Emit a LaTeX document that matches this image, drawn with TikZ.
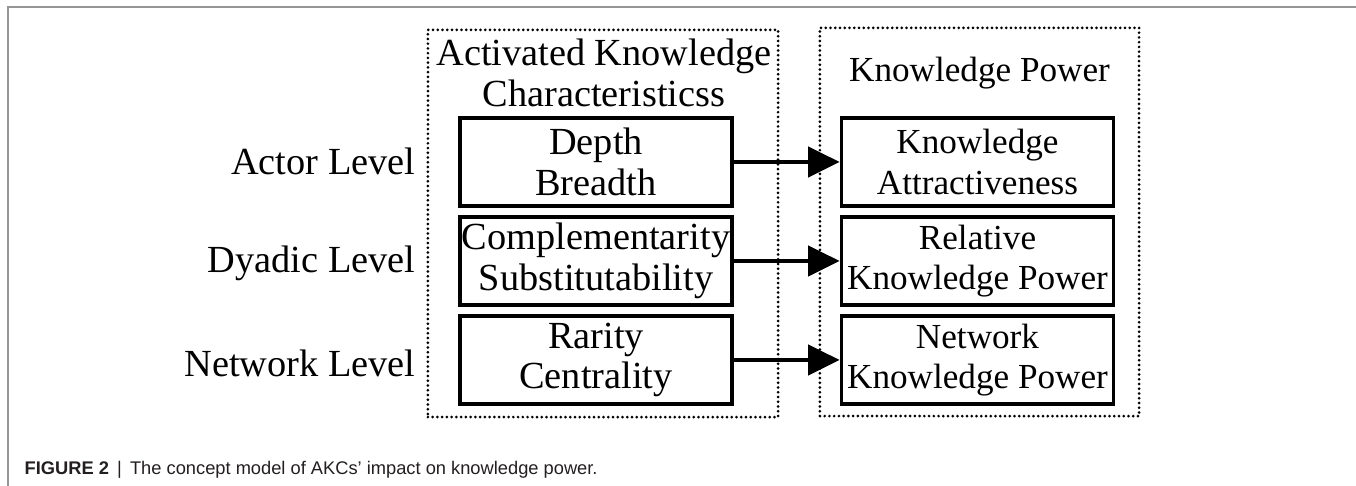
\documentclass[tikz,border=0pt]{standalone}
\usepackage{fontspec}
\setmainfont{Liberation Serif}
\newfontfamily\capfont{Liberation Sans}
\usetikzlibrary{arrows.meta,positioning}
\definecolor{framegray}{RGB}{150,150,150}
\definecolor{captext}{RGB}{35,31,32}

\begin{document}
\begin{tikzpicture}[
    x=0.01cm, y=-0.01cm,
    txt/.style={font=\fontsize{10}{11.4}\selectfont},
    bigtxt/.style={font=\fontsize{10.9}{11.6}\selectfont},
    level/.style={bigtxt, anchor=base east, inner sep=0pt},
    group/.style={draw, rectangle, dash pattern=on 0pt off 1.35pt, line cap=round, line width=0.85pt, inner sep=0pt},
    item/.style={draw, rectangle, line width=1pt, minimum width=2.72cm, minimum height=0.88cm, align=center, inner sep=0pt, txt},
    arrow/.style={-{Triangle[length=9pt,width=8.6pt]}, line width=1.2pt}
]
\useasboundingbox (0,0) rectangle (1356,486);

% Frame
\draw[framegray, line width=0.3pt] (1356,7) -- (8,7) -- (8,486);

% Groups
\node[group, minimum width=3.5cm, minimum height=3.87cm] (akcgroup) at (603,223.5) {};
\node[group, minimum width=3.19cm, minimum height=3.88cm] (kpgroup) at (979.5,222) {};
\node[bigtxt, align=center] (akctitle) at (604,73) {Activated Knowledge\\Characteristicss};
\node[txt] (kptitle) at (979.5,73) {Knowledge Power};

% Levels
\node[level] (actor) at (416,175) {Actor Level};
\node[level] (dyadic) at (416,273) {Dyadic Level};
\node[level] (network) at (416,377) {Network Level};

% Characteristics
\node[item, bigtxt] (depth) at (596,162) {Depth\\Breadth};
\node[item, bigtxt] (compl) at (596,261) {Complementarity\\Substitutability};
\node[item, bigtxt] (rarity) at (596,360) {Rarity\\Centrality};

% Knowledge power
\node[item] (attract) at (977.5,162) {Knowledge\\Attractiveness};
\node[item] (relative) at (977.5,261) {Relative\\Knowledge Power};
\node[item] (netpower) at (977.5,360) {Network\\Knowledge Power};

% Arrows
\draw[arrow] (depth) -- (attract);
\draw[arrow] (compl) -- (relative);
\draw[arrow] (rarity) -- (netpower);

% Caption
\node[anchor=base west, inner sep=0pt, text=captext, font=\capfont\fontsize{5.2}{6.3}\selectfont] (caption) at (24,475)
  {\textbf{FIGURE 2} \,|\, The concept model of AKCs’ impact on knowledge power.};

\end{tikzpicture}
\end{document}
